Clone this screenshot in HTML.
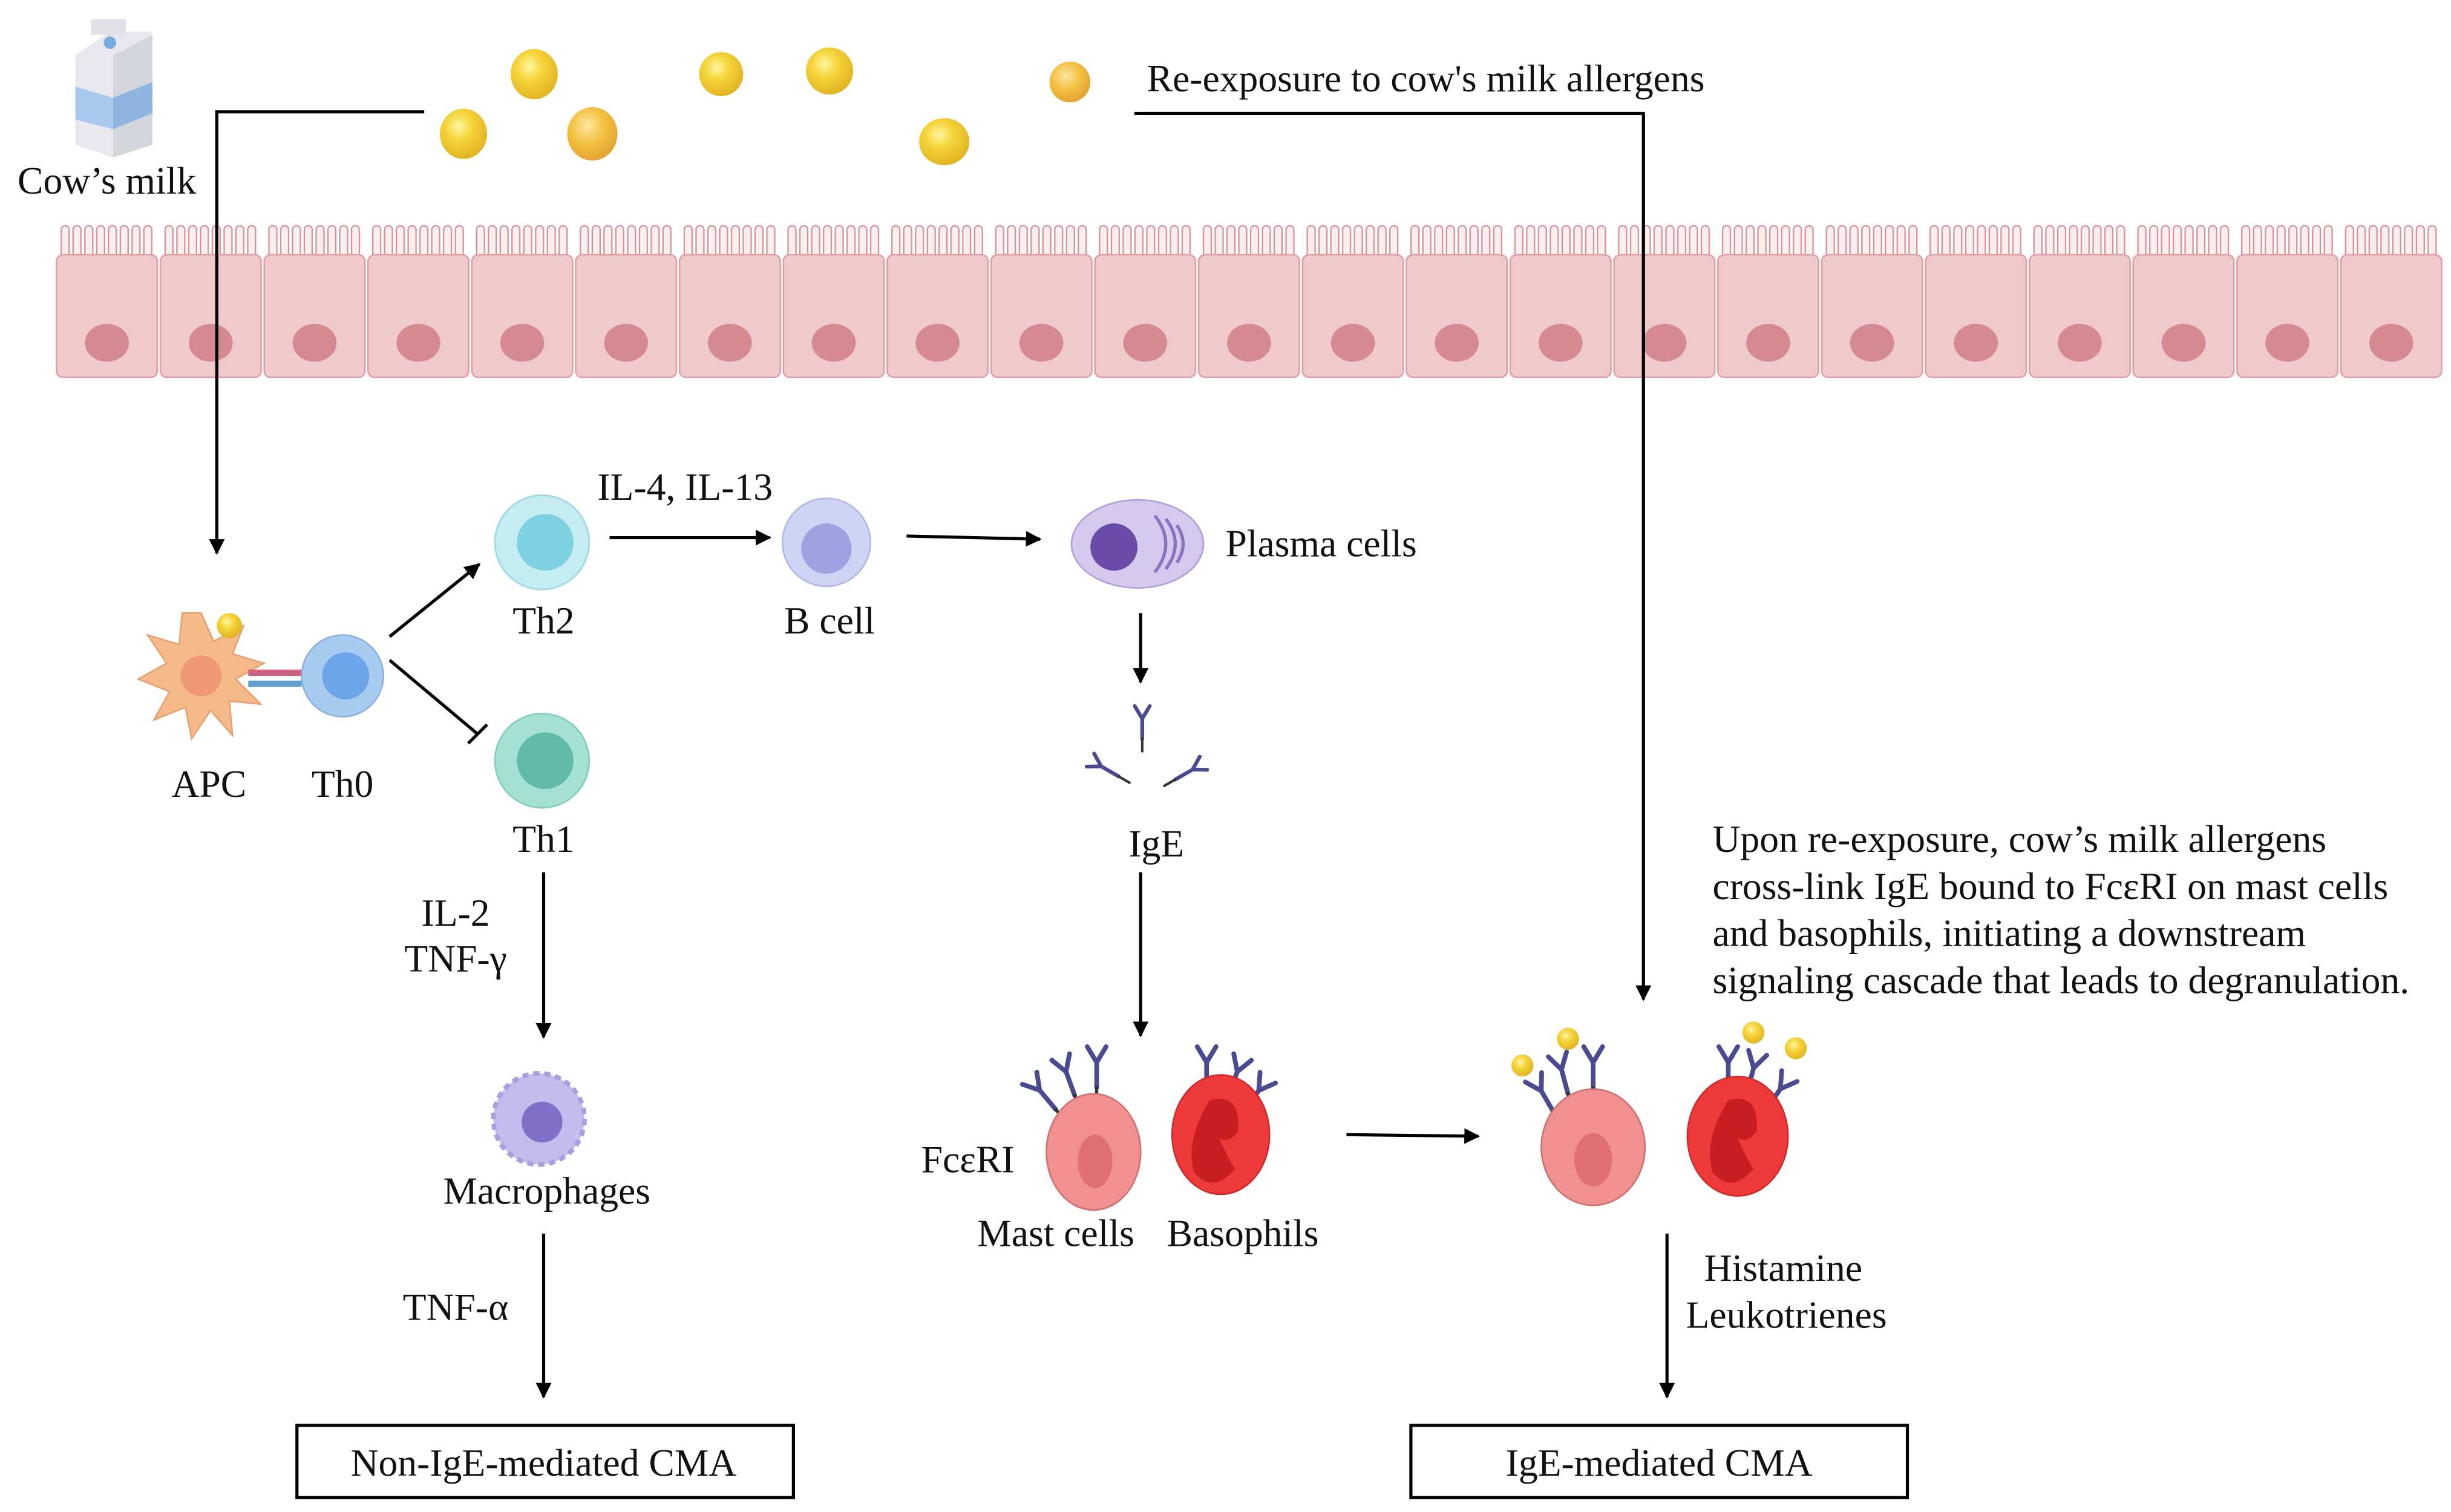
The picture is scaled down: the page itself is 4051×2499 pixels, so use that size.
<!DOCTYPE html>
<html><head><meta charset="utf-8"><style>
html,body{margin:0;padding:0;background:#fff;}
svg{display:block;}
text{font-family:"Liberation Serif","DejaVu Serif",serif;font-size:24.5px;fill:#111;}
</style></head><body>
<svg width="4051" height="2499" viewBox="0 0 1560 962" xmlns="http://www.w3.org/2000/svg">
<defs>
<marker id="ah" markerWidth="10" markerHeight="10" refX="9" refY="5" orient="auto" markerUnits="userSpaceOnUse"><path d="M0,0 L10,5 L0,10 z" fill="#000"/></marker>
<radialGradient id="yel" cx="0.4" cy="0.35" r="0.7"><stop offset="0" stop-color="#fff6a0"/><stop offset="0.4" stop-color="#f5d43a"/><stop offset="1" stop-color="#e0b020"/></radialGradient>
<radialGradient id="org" cx="0.4" cy="0.35" r="0.7"><stop offset="0" stop-color="#fde7a0"/><stop offset="0.5" stop-color="#f4c040"/><stop offset="1" stop-color="#e0a030"/></radialGradient>
<g id="ab" stroke="#4a4a90" stroke-width="3" fill="none" stroke-linecap="round"><path d="M0,0 L0,-16 M0,-16 L-6,-26 M0,-16 L6,-26"/><path d="M0,0 L0,10" stroke="#333" stroke-width="2"/></g>
</defs>

<!-- milk carton -->
<g>
<polygon points="48,35 70,20 97,20 97,92 72,100 48,92" fill="#e8e8ee"/>
<polygon points="72,35 97,22 97,92 72,100" fill="#d4d6de"/>
<polygon points="48,55 72,62 72,82 48,76" fill="#a8c8ee"/>
<polygon points="72,62 97,52 97,72 72,82" fill="#90b4e0"/>
<rect x="58" y="12" width="22" height="10" fill="#e0e0e6"/>
<circle cx="70" cy="27" r="4" fill="#7aaae0"/>
</g>
<text x="68" y="123" text-anchor="middle">Cow’s milk</text>

<!-- allergens -->
<g>
<ellipse cx="295" cy="85" rx="15" ry="16" fill="url(#yel)"/>
<ellipse cx="340" cy="47" rx="15" ry="16" fill="url(#yel)"/>
<ellipse cx="377" cy="85" rx="16" ry="17" fill="url(#org)"/>
<ellipse cx="459" cy="47" rx="14" ry="14" fill="url(#yel)"/>
<ellipse cx="528" cy="45" rx="15" ry="15" fill="url(#yel)"/>
<ellipse cx="601" cy="90" rx="16" ry="15" fill="url(#yel)"/>
<ellipse cx="681" cy="52" rx="13" ry="13" fill="url(#org)"/>
</g>
<text x="730" y="58">Re-exposure to cow's milk allergens</text>

<g id="epi"></g>
<script>
(function(){var ns="http://www.w3.org/2000/svg",g=document.getElementById("epi");
var w=(1555-35)/23;
for(var i=0;i<23;i++){var x=35+i*w;
var d="";for(var k=0;k<8;k++){var vx=x+3+k*(w-6)/8;d+="M"+(vx+1)+",164 V146 a2.5,2.5 0 0 1 5,0 V164 ";}
var p=document.createElementNS(ns,"path");p.setAttribute("d",d);p.setAttribute("fill","#fbeeee");p.setAttribute("stroke","#d8939a");p.setAttribute("stroke-width","0.9");g.appendChild(p);
var r=document.createElementNS(ns,"rect");r.setAttribute("x",x+1);r.setAttribute("y",162);r.setAttribute("width",w-2);r.setAttribute("height",78);r.setAttribute("rx",4);r.setAttribute("fill","#efc9cc");r.setAttribute("stroke","#dca0a6");g.appendChild(r);
var e=document.createElementNS(ns,"ellipse");e.setAttribute("cx",x+w/2);e.setAttribute("cy",218);e.setAttribute("rx",14);e.setAttribute("ry",12);e.setAttribute("fill","#d48a90");g.appendChild(e);
}
})();
</script>

<!-- connector lines -->
<g stroke="#000" stroke-width="2" fill="none">
<polyline points="270,71 138,71 138,352" marker-end="url(#ah)"/>
<polyline points="722,72 1046,72 1046,636" marker-end="url(#ah)"/>
<line x1="248" y1="405" x2="305" y2="359" marker-end="url(#ah)"/>
<line x1="248" y1="420" x2="304" y2="467"/>
<line x1="298" y1="473" x2="310" y2="461"/>
<line x1="388" y1="342" x2="490" y2="342" marker-end="url(#ah)"/>
<line x1="577" y1="341" x2="662" y2="343" marker-end="url(#ah)"/>
<line x1="726" y1="390" x2="726" y2="434" marker-end="url(#ah)"/>
<line x1="726" y1="555" x2="726" y2="659" marker-end="url(#ah)"/>
<line x1="346" y1="555" x2="346" y2="660" marker-end="url(#ah)"/>
<line x1="346" y1="785" x2="346" y2="889" marker-end="url(#ah)"/>
<line x1="857" y1="722" x2="941" y2="723" marker-end="url(#ah)"/>
<line x1="1061" y1="785" x2="1061" y2="889" marker-end="url(#ah)"/>
</g>

<!-- APC & Th0 -->
<g>
<polygon points="128,390 136,408 155,398 148,416 168,422 150,432 166,448 146,446 148,468 134,452 122,470 118,450 98,458 108,440 88,432 106,422 94,404 114,410 116,390" fill="#f6b98a" stroke="#e8a070" stroke-width="1"/>
<circle cx="128" cy="430" r="13" fill="#ee9878"/>
<circle cx="146" cy="398" r="8" fill="url(#yel)"/>
<rect x="158" y="426" width="34" height="4" fill="#d06080"/>
<rect x="158" y="433" width="34" height="4" fill="#60a0d0"/>
<circle cx="218" cy="430" r="26" fill="#a8ccf0" stroke="#8ab0e0"/>
<circle cx="220" cy="430" r="15" fill="#6ea4e8"/>
</g>
<text x="133" y="507" text-anchor="middle">APC</text>
<text x="218" y="507" text-anchor="middle">Th0</text>

<circle cx="345" cy="345" r="30" fill="#c4ecf2" stroke="#9cd8e4"/>
<circle cx="347" cy="345" r="18" fill="#7cd0e0"/>
<text x="346" y="403" text-anchor="middle">Th2</text>
<circle cx="345" cy="484" r="30" fill="#a4e0d4" stroke="#80ccc0"/>
<circle cx="347" cy="484" r="18" fill="#60bca8"/>
<text x="346" y="542" text-anchor="middle">Th1</text>
<text x="436" y="318" text-anchor="middle">IL-4, IL-13</text>

<circle cx="526" cy="345" r="28" fill="#d0d4f4" stroke="#b0b6e8"/>
<circle cx="526" cy="349" r="16" fill="#9ea2e0"/>
<text x="528" y="403" text-anchor="middle">B cell</text>

<ellipse cx="724" cy="346" rx="42" ry="28" fill="#d4c8ec" stroke="#b0a0d8"/>
<circle cx="709" cy="348" r="15" fill="#6a4aa8"/>
<path d="M735,328 q14,18 0,36 M742,330 q12,16 0,32 M749,334 q8,12 0,24" stroke="#8a70c0" stroke-width="2" fill="none"/>
<text x="780" y="354">Plasma cells</text>

<use href="#ab" transform="translate(727,470) scale(0.8)"/>
<use href="#ab" transform="translate(712,494) rotate(-60) scale(0.8)"/>
<use href="#ab" transform="translate(748,496) rotate(60) scale(0.8)"/>
<text x="736" y="545" text-anchor="middle">IgE</text>

<text x="290" y="589" text-anchor="middle">IL-2</text>
<text x="290" y="618" text-anchor="middle">TNF-γ</text>
<circle cx="343" cy="712" r="29" fill="#c4bcec" stroke="#a89ee0" stroke-dasharray="4 3" stroke-width="3"/>
<circle cx="345" cy="714" r="13" fill="#8070c8"/>
<text x="348" y="766" text-anchor="middle">Macrophages</text>
<text x="290" y="840" text-anchor="middle">TNF-α</text>
<rect x="189" y="907" width="316" height="46" fill="none" stroke="#000" stroke-width="2"/>
<text x="346" y="939" text-anchor="middle">Non-IgE-mediated CMA</text>

<g>
<use href="#ab" transform="translate(672,706) rotate(-40)"/>
<use href="#ab" transform="translate(684,697) rotate(-20)"/>
<use href="#ab" transform="translate(698,692)"/>
<use href="#ab" transform="translate(768,692)"/>
<use href="#ab" transform="translate(782,697) rotate(20)"/>
<use href="#ab" transform="translate(792,707) rotate(35)"/>
<ellipse cx="696" cy="733" rx="30" ry="37" fill="#f09090" stroke="#d07070"/>
<ellipse cx="697" cy="739" rx="11" ry="17" fill="#e07076"/>
<ellipse cx="777" cy="722" rx="31" ry="38" fill="#ee3a3a" stroke="#d02828"/>
<path d="M770,700 q20,-5 18,20 q-6,8 -12,4 q4,10 10,20 q-14,16 -26,2 q-6,-20 10,-46z" fill="#c81e22"/>
</g>
<text x="616" y="746" text-anchor="middle">FcεRI</text>
<text x="672" y="793" text-anchor="middle">Mast cells</text>
<text x="791" y="793" text-anchor="middle">Basophils</text>

<g>
<use href="#ab" transform="translate(989,708) rotate(-30)"/>
<use href="#ab" transform="translate(998,696) rotate(-15)"/>
<use href="#ab" transform="translate(1014,692)"/>
<use href="#ab" transform="translate(1100,692)"/>
<use href="#ab" transform="translate(1112,695) rotate(15)"/>
<use href="#ab" transform="translate(1124,706) rotate(35)"/>
<circle cx="969" cy="678" r="7" fill="url(#yel)"/>
<circle cx="998" cy="661" r="7" fill="url(#yel)"/>
<circle cx="1116" cy="657" r="7" fill="url(#yel)"/>
<circle cx="1143" cy="667" r="7" fill="url(#yel)"/>
<ellipse cx="1014" cy="730" rx="33" ry="37" fill="#f09090" stroke="#d07070"/>
<ellipse cx="1014" cy="738" rx="12" ry="17" fill="#e07076"/>
<ellipse cx="1106" cy="723" rx="32" ry="38" fill="#ee3a3a" stroke="#d02828"/>
<path d="M1100,700 q20,-5 18,20 q-6,8 -12,4 q4,10 10,20 q-14,16 -26,2 q-6,-20 10,-46z" fill="#c81e22"/>
</g>

<text x="1090" y="542">Upon re-exposure, cow’s milk allergens</text>
<text x="1090" y="572">cross-link IgE bound to FcεRI on mast cells</text>
<text x="1090" y="602">and basophils, initiating a downstream</text>
<text x="1090" y="632">signaling cascade that leads to degranulation.</text>

<text x="1135" y="815" text-anchor="middle">Histamine</text>
<text x="1137" y="845" text-anchor="middle">Leukotrienes</text>
<rect x="898" y="907" width="316" height="46" fill="none" stroke="#000" stroke-width="2"/>
<text x="1056" y="939" text-anchor="middle">IgE-mediated CMA</text>
</svg>
</body></html>
